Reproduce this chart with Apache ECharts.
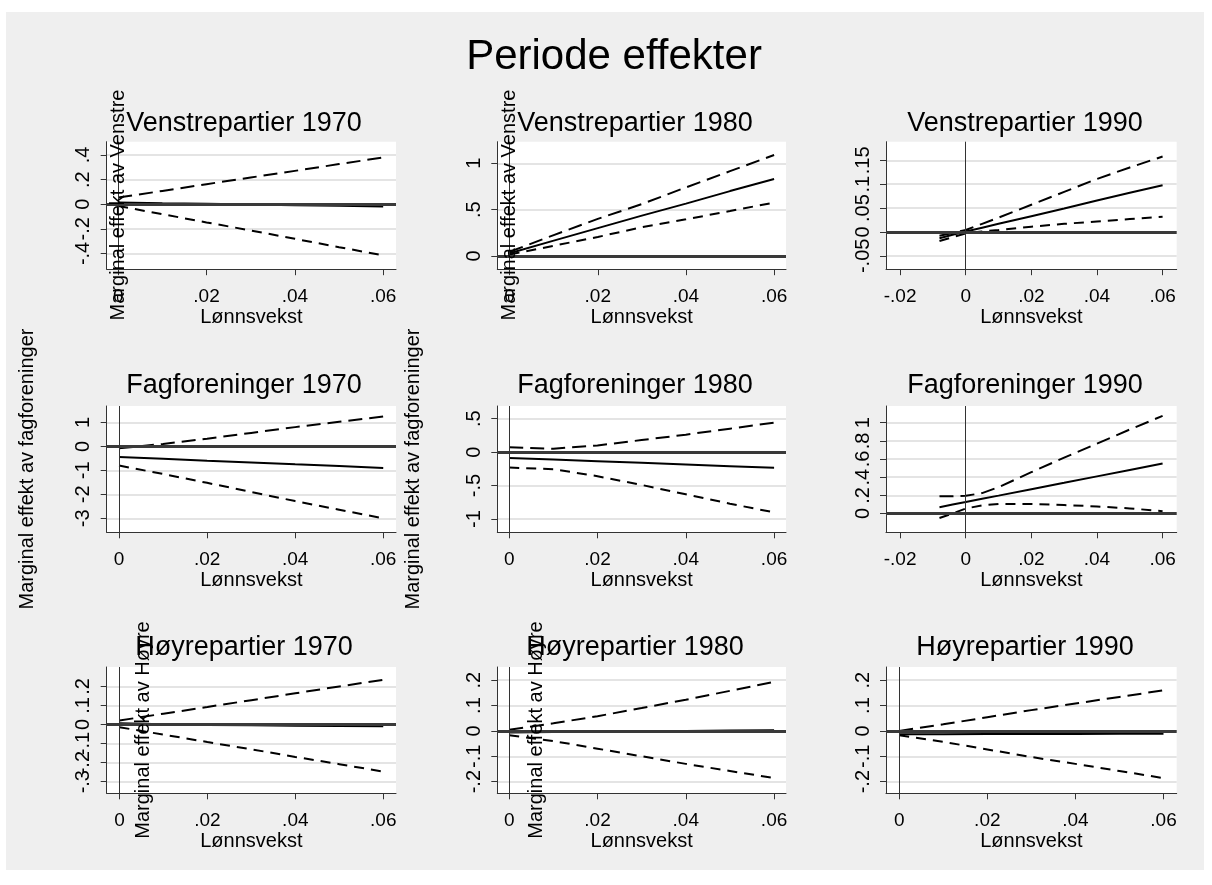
<!DOCTYPE html>
<html>
<head>
<meta charset="utf-8">
<script src="https://cdn.jsdelivr.net/npm/echarts@6/dist/echarts.min.js"></script>
<style>
html, body { margin: 0; padding: 0; background: #fff; }
#bg { position: absolute; left: 6px; top: 12px; width: 1198px; height: 858px; background: #efefef; }
#chart { position: absolute; left: 0; top: 0; width: 1212px; height: 885px; }
</style>
</head>
<body>
<div id="bg"></div>
<div id="chart"></div>
<script>
// x-verdier (lønnsvekst) der kurvene er lest av
const xsZero = [0, 0.01, 0.02, 0.03, 0.04, 0.05, 0.06];
const xsNeg = [-0.008, -0.004, 0, 0.005, 0.01, 0.02, 0.03, 0.04, 0.05, 0.06];

// Venstrepartier 1970 / 1980 / 1990 (øvre KI, estimat, nedre KI)
const v70Upper = [0.054, 0.108, 0.163, 0.217, 0.271, 0.326, 0.38];
const v70Est   = [0.014, 0.008, 0.003, -0.003, -0.008, -0.013, -0.019];
const v70Lower = [-0.014, -0.081, -0.148, -0.213, -0.281, -0.349, -0.415];

const v80Upper = [0.045, 0.225, 0.4, 0.56, 0.74, 0.915, 1.09];
const v80Est   = [0.03, 0.165, 0.3, 0.435, 0.565, 0.7, 0.83];
const v80Lower = [0.015, 0.11, 0.205, 0.31, 0.395, 0.485, 0.576];

const v90Upper = [-0.008, -0.002, 0.004, 0.017, 0.03, 0.057, 0.084, 0.111, 0.135, 0.158];
const v90Est   = [-0.013, -0.006, 0.001, 0.009, 0.017, 0.033, 0.049, 0.066, 0.082, 0.098];
const v90Lower = [-0.019, -0.011, -0.003, 0.001, 0.004, 0.011, 0.017, 0.022, 0.027, 0.032];

// Fagforeninger
const f70Upper = [-0.08, 0.1, 0.32, 0.56, 0.8, 1.02, 1.24];
const f70Est   = [-0.44, -0.52, -0.6, -0.67, -0.75, -0.82, -0.9];
const f70Lower = [-0.8, -1.15, -1.52, -1.9, -2.28, -2.64, -3.0];

const f80Upper = [0.074, 0.05, 0.1, 0.18, 0.26, 0.35, 0.44];
const f80Est   = [-0.088, -0.11, -0.135, -0.16, -0.185, -0.21, -0.235];
const f80Lower = [-0.23, -0.255, -0.36, -0.49, -0.63, -0.77, -0.9];

const f90Upper = [0.19, 0.19, 0.195, 0.225, 0.29, 0.455, 0.615, 0.77, 0.925, 1.075];
const f90Est   = [0.07, 0.098, 0.126, 0.162, 0.197, 0.268, 0.338, 0.409, 0.48, 0.55];
const f90Lower = [-0.05, 0.0, 0.055, 0.089, 0.105, 0.104, 0.093, 0.078, 0.056, 0.026];

// Høyrepartier
const h70Upper = [0.021, 0.057, 0.092, 0.128, 0.164, 0.2, 0.235];
const h70Est   = [0.007, 0.002, -0.002, -0.004, -0.006, -0.008, -0.009];
const h70Lower = [-0.014, -0.053, -0.092, -0.13, -0.17, -0.208, -0.247];

const h80Upper = [0.005, 0.03, 0.058, 0.09, 0.123, 0.158, 0.193];
const h80Est   = [-0.006, -0.004, -0.003, -0.001, 0.0, 0.002, 0.003];
const h80Lower = [-0.017, -0.04, -0.07, -0.1, -0.13, -0.158, -0.186];

const h90Upper = [0.0, 0.026, 0.054, 0.082, 0.108, 0.134, 0.16];
const h90Est   = [-0.013, -0.013, -0.012, -0.012, -0.012, -0.011, -0.011];
const h90Lower = [-0.017, -0.043, -0.073, -0.103, -0.13, -0.158, -0.186];

// aksemerker
const xTicksZero = [0, 0.02, 0.04, 0.06];
const xTicksNeg = [-0.02, 0, 0.02, 0.04, 0.06];
const yTicksV70 = [-0.4, -0.2, 0, 0.2, 0.4];
const yTicksV80 = [0, 0.5, 1];
const yTicksV90 = [-0.05, 0, 0.05, 0.1, 0.15];
const yTicksF70 = [-3, -2, -1, 0, 1];
const yTicksF80 = [-1, -0.5, 0, 0.5];
const yTicksF90 = [0, 0.2, 0.4, 0.6, 0.8, 1];
const yTicksH70 = [-0.3, -0.2, -0.1, 0, 0.1, 0.2];
const yTicksH80 = [-0.2, -0.1, 0, 0.1, 0.2];
const yTicksH90 = [-0.2, -0.1, 0, 0.1, 0.2];

// referanselinje (vertikal) per panel
const vlines = [0.0015, 0.0022, 0.0011, 0.0015, 0.0022, 0.001, 0.0015, 0.0022, 0.0018];

const FONT = '"Liberation Sans", Arial, sans-serif';

// layout
const colLeft = [106.7, 497.3, 886];
const colWidth = [289.3, 288.7, 290.7];
const rowTop = [141.7, 406, 667];
const rowHeight = [127.5, 126.3, 126.3];
const titleX = [244, 635, 1025];
const titleY = [124, 386, 648];

const panels = [
  { title: 'Venstrepartier 1970', xs: xsZero, up: v70Upper, est: v70Est, lo: v70Lower, xt: xTicksZero, yt: yTicksV70, xr: [-0.0026, 0.0629], yr: [-0.528, 0.508] },
  { title: 'Venstrepartier 1980', xs: xsZero, up: v80Upper, est: v80Est, lo: v80Lower, xt: xTicksZero, yt: yTicksV80, xr: [-0.0028, 0.0627], yr: [-0.143, 1.233] },
  { title: 'Venstrepartier 1990', xs: xsNeg, up: v90Upper, est: v90Est, lo: v90Lower, xt: xTicksNeg, yt: yTicksV90, xr: [-0.0243, 0.0643], yr: [-0.078, 0.189] },
  { title: 'Fagforeninger 1970', xs: xsZero, up: f70Upper, est: f70Est, lo: f70Lower, xt: xTicksZero, yt: yTicksF70, xr: [-0.0028, 0.0629], yr: [-3.58, 1.68] },
  { title: 'Fagforeninger 1980', xs: xsZero, up: f80Upper, est: f80Est, lo: f80Lower, xt: xTicksZero, yt: yTicksF80, xr: [-0.0027, 0.0627], yr: [-1.197, 0.688] },
  { title: 'Fagforeninger 1990', xs: xsNeg, up: f90Upper, est: f90Est, lo: f90Lower, xt: xTicksNeg, yt: yTicksF90, xr: [-0.0243, 0.0643], yr: [-0.207, 1.184] },
  // tette etiketter: fordeles på to akser så ECharts ikke skjuler noen
  { title: 'Høyrepartier 1970', xs: xsZero, up: h70Upper, est: h70Est, lo: h70Lower, xt: xTicksZero, yt: yTicksH70, xr: [-0.0029, 0.0629], yr: [-0.361, 0.302], split: true },
  { title: 'Høyrepartier 1980', xs: xsZero, up: h80Upper, est: h80Est, lo: h80Lower, xt: xTicksZero, yt: yTicksH80, xr: [-0.0027, 0.0627], yr: [-0.246, 0.252] },
  { title: 'Høyrepartier 1990', xs: xsZero, up: h90Upper, est: h90Est, lo: h90Lower, xt: xTicksZero, yt: yTicksH90, xr: [-0.003, 0.063], yr: [-0.246, 0.252] }
];

// Stata-stil: .02 i stedet for 0.02
function fmt(v) {
  const s = String(Math.round(v * 1000) / 1000);
  return s.replace(/^(-?)0\./, '$1.');
}

const yLabelStyle = { formatter: fmt, fontSize: 20, color: '#000', margin: 13, rotate: 90,
  showMinLabel: true, showMaxLabel: true, hideOverlap: false, fontFamily: FONT };

const grids = [], xAxes = [], yAxes = [], extraY = [], series = [], graphics = [];

panels.forEach((p, i) => {
  const c = i % 3, r = Math.floor(i / 3);
  grids.push({
    left: colLeft[c], top: rowTop[r], width: colWidth[c], height: rowHeight[r],
    show: true, backgroundColor: '#fff', borderWidth: 0
  });
  xAxes.push({
    type: 'value', gridIndex: i, min: p.xr[0], max: p.xr[1],
    axisLine: { show: true, onZero: false, lineStyle: { color: '#333', width: 1 } },
    axisTick: { show: true, length: 6, customValues: p.xt, lineStyle: { color: '#333' } },
    axisLabel: { customValues: p.xt, formatter: fmt, fontSize: 19, color: '#000', margin: 18,
      showMinLabel: true, showMaxLabel: true, hideOverlap: false, fontFamily: FONT },
    splitLine: { show: false },
    name: 'Lønnsvekst', nameLocation: 'middle', nameGap: 33,
    nameTextStyle: { fontSize: 20, color: '#000', fontFamily: FONT }
  });
  const labA = p.split ? p.yt.filter((v, k) => k % 2 === 0) : p.yt;
  yAxes.push({
    type: 'value', gridIndex: i, min: p.yr[0], max: p.yr[1],
    axisLine: { show: true, onZero: false, lineStyle: { color: '#333', width: 1 } },
    axisTick: { show: true, length: 6, customValues: p.yt, lineStyle: { color: '#333' } },
    axisLabel: Object.assign({ customValues: labA }, yLabelStyle),
    splitLine: { show: true, lineStyle: { color: '#e4e4e4', width: 2 } }
  });
  if (p.split) {
    extraY.push({
      type: 'value', gridIndex: i, min: p.yr[0], max: p.yr[1], position: 'left',
      axisLine: { show: false }, axisTick: { show: false }, splitLine: { show: false },
      axisLabel: Object.assign({ customValues: p.yt.filter((v, k) => k % 2 === 1) }, yLabelStyle)
    });
  }
  const mk = (vals, type, extra) => Object.assign({
    type: 'line', xAxisIndex: i, yAxisIndex: i,
    data: p.xs.map((x, k) => [x, vals[k]]),
    symbol: 'none', silent: true, z: 3,
    lineStyle: { color: '#000', width: 2, type: type }
  }, extra || {});
  series.push(mk(p.est, 'solid', {
    markLine: {
      silent: true, symbol: 'none', label: { show: false }, animation: false,
      data: [
        { yAxis: 0, lineStyle: { color: '#3a3a3a', width: 3, type: 'solid' } },
        { xAxis: vlines[i], lineStyle: { color: '#333', width: 1, type: 'solid' } }
      ]
    }
  }));
  series.push(mk(p.up, [14, 7]));
  series.push(mk(p.lo, [10, 7]));

  graphics.push({
    type: 'text', x: titleX[c], y: titleY[r], silent: true,
    style: { text: p.title, fontSize: 27, fontFamily: FONT, fill: '#000',
      align: 'center', verticalAlign: 'middle', textAlign: 'center', textVerticalAlign: 'middle' }
  });
});

// y-aksetitler (plassert som i originalen)
const yTitles = [
  { text: 'Marginal effekt av Venstre', x: 118, y: 205 },
  { text: 'Marginal effekt av Venstre', x: 509, y: 205 },
  { text: 'Marginal effekt av fagforeninger', x: 27, y: 469 },
  { text: 'Marginal effekt av fagforeninger', x: 413, y: 469 },
  { text: 'Marginal effekt av Høyre', x: 143, y: 730 },
  { text: 'Marginal effekt av Høyre', x: 536, y: 730 }
];
yTitles.forEach(t => {
  graphics.push({
    type: 'text', x: t.x, y: t.y, rotation: Math.PI / 2, silent: true, z: 10,
    style: { text: t.text, fontSize: 20, fontFamily: FONT, fill: '#000',
      align: 'center', verticalAlign: 'middle', textAlign: 'center', textVerticalAlign: 'middle' }
  });
});

graphics.push({
  type: 'text', x: 614, y: 57, silent: true,
  style: { text: 'Periode effekter', fontSize: 42, fontFamily: FONT, fill: '#000',
    align: 'center', verticalAlign: 'middle', textAlign: 'center', textVerticalAlign: 'middle' }
});

const chart = echarts.init(document.getElementById('chart'));
chart.setOption({
  animation: false,
  backgroundColor: 'transparent',
  textStyle: { fontFamily: FONT },
  grid: grids,
  xAxis: xAxes,
  yAxis: yAxes.concat(extraY),
  series: series,
  graphic: graphics
});
</script>
</body>
</html>
